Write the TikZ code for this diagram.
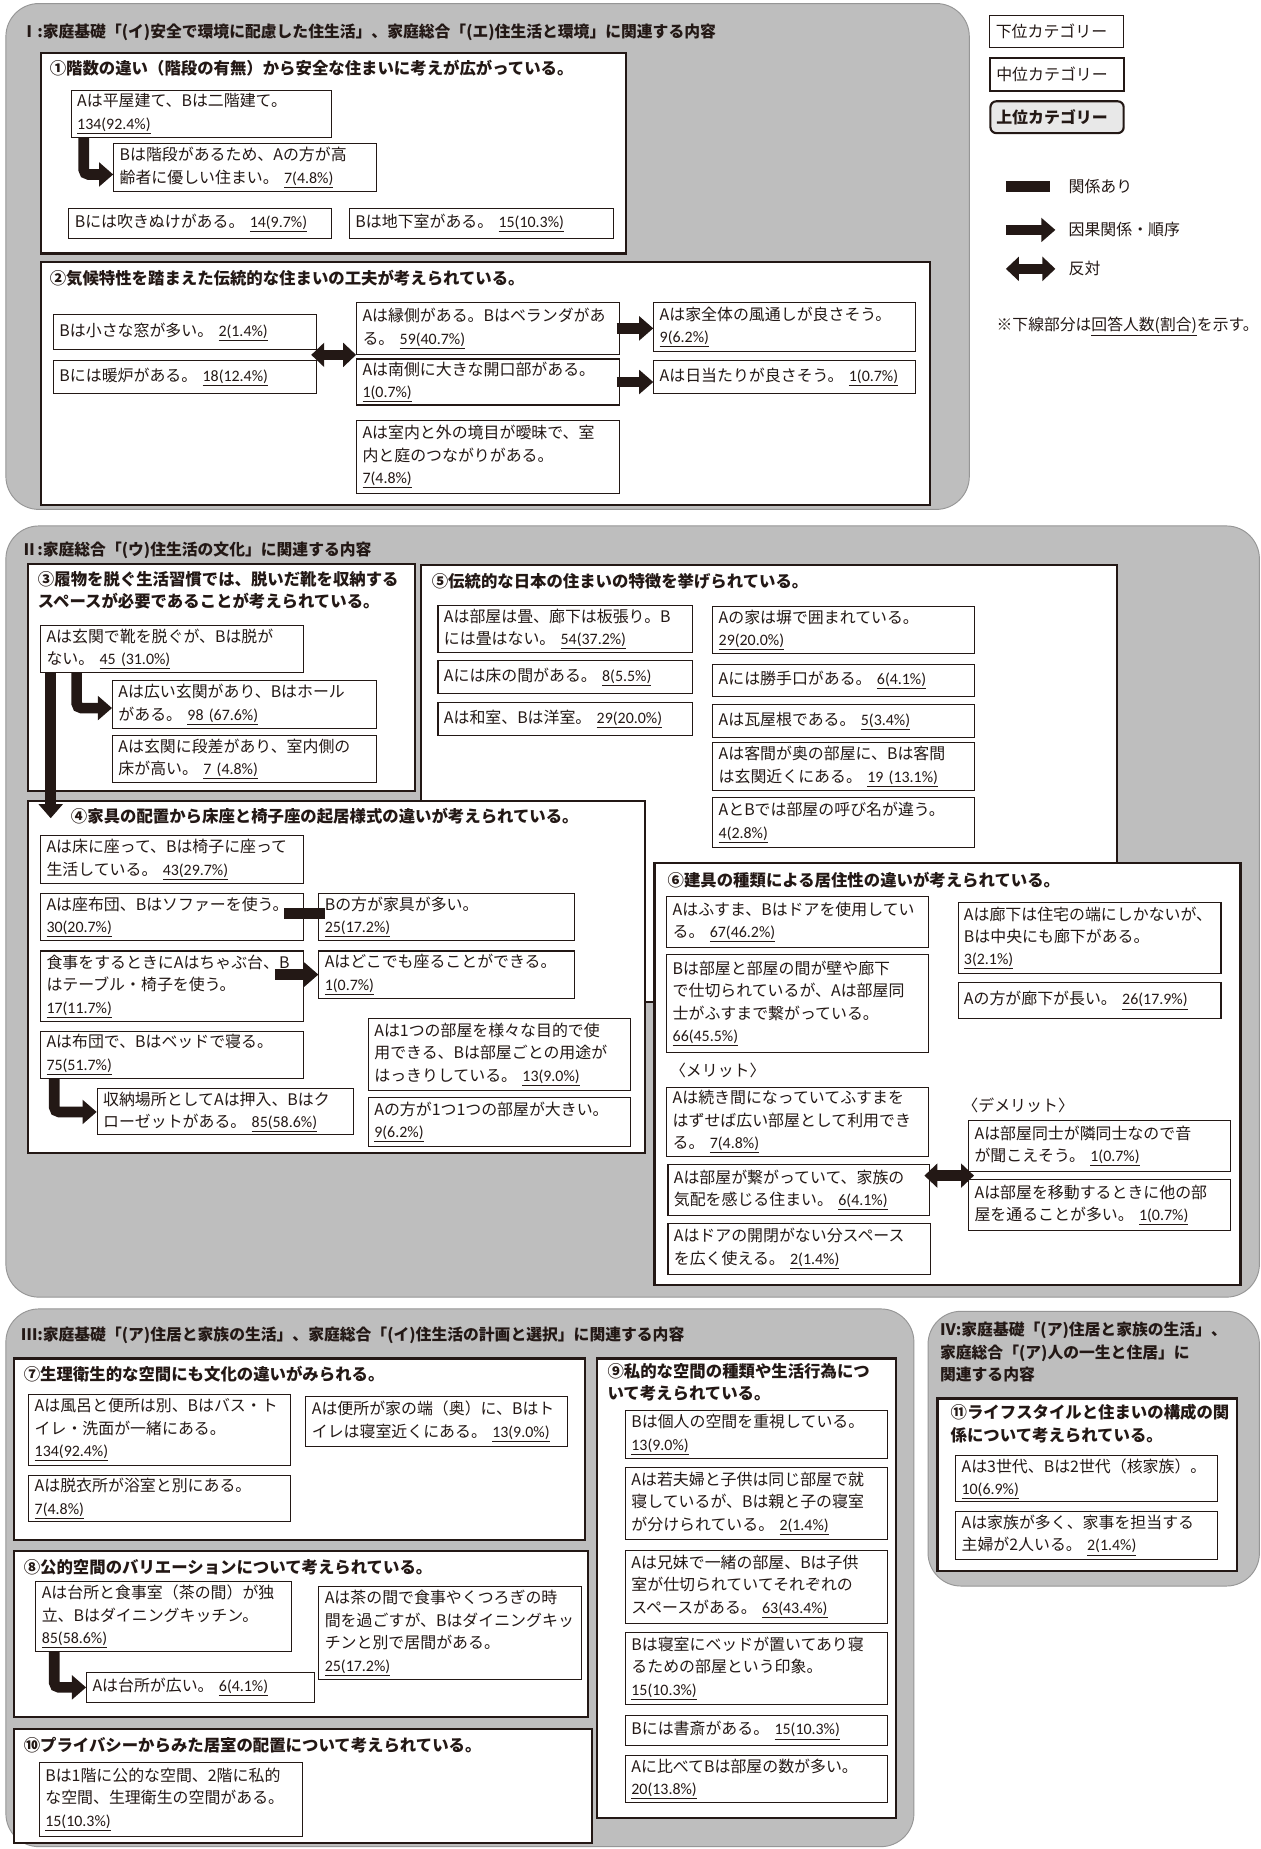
\documentclass[tikz,border=0pt]{standalone}
\usepackage{fontspec}
\setmainfont{Noto Sans CJK JP}
\newfontfamily\carl{Carlito}
\usetikzlibrary{arrows.meta,calc}
\definecolor{pan}{RGB}{190,190,190}
\definecolor{panb}{RGB}{150,150,150}
\definecolor{ink}{RGB}{35,24,21}
\newcommand\cnt[1]{\underline{\carl #1}}
\newcommand\bx[7][]{%
  \pgfmathsetmacro\bxw{#5-#3}%
  \pgfmathsetmacro\bxh{#6-#4}%
  \pgfmathsetmacro\bxt{#5-#3-10}%
  \node[lbox,#1,minimum width=\bxw pt,minimum height=\bxh pt,text width=\bxt pt] (#2) at (#3,#4) {#7};}
\begin{document}
\begin{tikzpicture}[x=1pt,y=-1pt,
  every node/.style={font=\fontsize{13.5}{19}\selectfont, inner sep=0pt, text=ink},
  lbox/.style={draw=ink, line width=0.9pt, fill=white, anchor=north west, align=left, inner xsep=5pt, inner ysep=2pt},
  mbox/.style={draw=ink, line width=1.8pt, fill=white},
  panel/.style={fill=pan, draw=panb, line width=0.8pt, rounded corners=28pt},
  stl/.style={anchor=west, font=\bfseries\fontsize{13.4}{19}\selectfont},
  stlb/.style={anchor=north west, align=left, font=\bfseries\fontsize{13.4}{19}\selectfont},
  ttl/.style={anchor=west, font=\bfseries\fontsize{13.9}{19}\selectfont},
  ttlb/.style={anchor=north west, align=left, font=\bfseries\fontsize{13.9}{19}\selectfont},
  carr/.style={draw=ink, line width=9pt, -{Triangle[length=12pt,width=20pt]}},
  bcarr/.style={carr, rounded corners=4pt},
  darr/.style={draw=ink, line width=9pt, {Triangle[length=11pt,width=20pt]}-{Triangle[length=11pt,width=20pt]}},
  rel/.style={draw=ink, line width=9pt}]
\useasboundingbox (0,0) rectangle (1069,1568);
\fill[white] (0,0) rectangle (1069,1568);

% ---------------- Section I ----------------
\draw[panel] (5,3) rectangle (822,432);
\node[stl] (t1) at (18,27) {Ⅰ:家庭基礎「(イ)安全で環境に配慮した住生活」、家庭総合「(エ)住生活と環境」に関連する内容};
\draw[mbox] (35,45) rectangle (531,215);
\node[ttl] (h1) at (42,58) {①階数の違い（階段の有無）から安全な住まいに考えが広がっている。};
\bx{b1a}{60}{76}{281}{116}{Aは平屋建て、Bは二階建て。\\\cnt{134(92.4\%)}}
\bx{b1b}{96}{121}{319}{162}{Bは階段があるため、Aの方が高\\齢者に優しい住まい。\ \cnt{7(4.8\%)}}
\bx{b1c}{58}{176}{281}{202}{Bには吹きぬけがある。\ \cnt{14(9.7\%)}}
\bx{b1d}{296}{176}{520}{202}{Bは地下室がある。\ \cnt{15(10.3\%)}}
\draw[bcarr] ([xshift=11pt]b1a.south west) |- ([yshift=-6pt]b1b.west);

\draw[mbox] (35,222) rectangle (789,428);
\node[ttl] (h2) at (42,236) {②気候特性を踏まえた伝統的な住まいの工夫が考えられている。};
\bx{b2a}{45}{266}{268}{296}{Bは小さな窓が多い。\ \cnt{2(1.4\%)}}
\bx{b2b}{45}{305}{268}{333}{Bには暖炉がある。\ \cnt{18(12.4\%)}}
\bx{b2c}{302}{256}{525}{300}{Aは縁側がある。Bはベランダがあ\\る。\ \cnt{59(40.7\%)}}
\bx{b2d}{302}{304}{525}{343}{Aは南側に大きな開口部がある。\\\cnt{1(0.7\%)}}
\bx{b2e}{302}{356}{525}{418}{Aは室内と外の境目が曖昧で、室\\内と庭のつながりがある。\\\cnt{7(4.8\%)}}
\bx{b2f}{554}{256}{776}{298}{Aは家全体の風通しが良さそう。\\\cnt{9(6.2\%)}}
\bx{b2g}{554}{305}{776}{333}{Aは日当たりが良さそう。\ \cnt{1(0.7\%)}}
\coordinate (m2l) at ($(b2a.south east)!.5!(b2b.north east)$);
\coordinate (m2s) at ([xshift=-5pt]m2l);
\draw[darr] (m2s) -- (m2l -| b2c.west);
\coordinate (s2c) at ([xshift=-3pt]b2c.east);
\draw[carr] (s2c) -- (s2c -| b2f.west);
\coordinate (s2d) at ([xshift=-3pt]b2d.east);
\draw[carr] (s2d) -- (s2d -| b2g.west);

% ---------------- Legend ----------------
\bx{lg1}{839}{13}{952}{40}{下位カテゴリー}
\bx[line width=1.8pt]{lg2}{839}{48}{952}{76}{中位カテゴリー}
\bx[line width=1.8pt,rounded corners=5pt,fill=black!9,font=\bfseries\fontsize{13.5}{19}\selectfont]{lg3}{839}{85}{952}{112}{上位カテゴリー}
\node[anchor=west] (lk1) at (906,158) {関係あり};
\draw[rel] ([xshift=-53pt]lk1.west) -- ([xshift=-16pt]lk1.west);
\node[anchor=west] (lk2) at (906,195) {因果関係・順序};
\draw[carr] ([xshift=-53pt]lk2.west) -- ([xshift=-11pt]lk2.west);
\node[anchor=west] (lk3) at (906,228) {反対};
\draw[darr] ([xshift=-53pt]lk3.west) -- ([xshift=-11pt]lk3.west);
\node[anchor=west,font=\fontsize{13.4}{16}\selectfont] (note) at (845,277) {※下線部分は\underline{回答人数(割合)}を示す。};

% ---------------- Section II ----------------
\draw[panel] (5,446) rectangle (1068,1100);
\node[stl] (t2) at (18,467) {Ⅱ:家庭総合「(ウ)住生活の文化」に関連する内容};

\draw[mbox] (357,479) rectangle (947,850);
\node[ttl] (h5) at (366,493) {⑤伝統的な日本の住まいの特徴を挙げられている。};
\bx{b5a}{371}{513}{587}{553}{Aは部屋は畳、廊下は板張り。B\\には畳はない。\ \cnt{54(37.2\%)}}
\bx{b5b}{371}{560}{587}{588}{Aには床の間がある。\ \cnt{8(5.5\%)}}
\bx{b5c}{371}{595}{587}{623}{Aは和室、Bは洋室。\ \cnt{29(20.0\%)}}
\bx{b5d}{604}{514}{826}{554}{Aの家は塀で囲まれている。\\\cnt{29(20.0\%)}}
\bx{b5e}{604}{563}{826}{590}{Aには勝手口がある。\ \cnt{6(4.1\%)}}
\bx{b5f}{604}{597}{826}{625}{Aは瓦屋根である。\ \cnt{5(3.4\%)}}
\bx{b5g}{604}{629}{826}{670}{Aは客間が奥の部屋に、Bは客間\\は玄関近くにある。\ \cnt{19 (13.1\%)}}
\bx{b5h}{604}{676}{826}{718}{AとBでは部屋の呼び名が違う。\\\cnt{4(2.8\%)}}

\draw[mbox] (24,478) rectangle (352,671);
\node[ttlb] (h3) at (32,484) {③履物を脱ぐ生活習慣では、脱いだ靴を収納する\\スペースが必要であることが考えられている。};
\bx{b3a}{34}{530}{257}{570}{Aは玄関で靴を脱ぐが、Bは脱が\\ない。\ \cnt{45 (31.0\%)}}
\bx{b3b}{95}{577}{319}{617}{Aは広い玄関があり、Bはホール\\がある。\ \cnt{98 (67.6\%)}}
\bx{b3c}{95}{623}{319}{663}{Aは玄関に段差があり、室内側の\\床が高い。\ \cnt{7 (4.8\%)}}

\draw[mbox] (24,679) rectangle (547,978);
\node[ttl] (h4) at (60,692) {④家具の配置から床座と椅子座の起居様式の違いが考えられている。};
\bx{b4a}{34}{708}{257}{749}{Aは床に座って、Bは椅子に座って\\生活している。\ \cnt{43(29.7\%)}}
\bx{b4b}{34}{757}{257}{797}{Aは座布団、Bはソファーを使う。\\\cnt{30(20.7\%)}}
\bx{b4c}{270}{757}{487}{797}{Bの方が家具が多い。\\\cnt{25(17.2\%)}}
\bx{b4d}{34}{806}{257}{866}{食事をするときにAはちゃぶ台、B\\はテーブル・椅子を使う。\\\cnt{17(11.7\%)}}
\bx{b4e}{270}{806}{487}{846}{Aはどこでも座ることができる。\\\cnt{1(0.7\%)}}
\bx{b4f}{34}{874}{257}{914}{Aは布団で、Bはベッドで寝る。\\\cnt{75(51.7\%)}}
\bx{b4g}{82}{923}{299}{962}{収納場所としてAは押入、Bはク\\ローゼットがある。\ \cnt{85(58.6\%)}}
\bx{b4h}{312}{863}{534}{924}{Aは1つの部屋を様々な目的で使\\用できる、Bは部屋ごとの用途が\\はっきりしている。\ \cnt{13(9.0\%)}}
\bx{b4i}{312}{930}{534}{972}{Aの方が1つ1つの部屋が大きい。\\\cnt{9(6.2\%)}}
\coordinate (s4b) at ([xshift=-17pt,yshift=3pt]b4b.east);
\draw[rel] (s4b) -- ([xshift=6pt]s4b -| b4c.west);
\coordinate (s4d) at ([xshift=-37pt]b4e.west);
\draw[carr] (s4d) -- (b4e.west);
\draw[bcarr] ([xshift=12pt]b4f.south west) |- (b4g.west);

\draw[mbox] (555,732) rectangle (1052,1090);
\node[ttl] (h6) at (566,746) {⑥建具の種類による居住性の違いが考えられている。};
\bx{b6a}{565}{760}{787}{803}{Aはふすま、Bはドアを使用してい\\る。\ \cnt{67(46.2\%)}}
\bx{b6b}{565}{809}{787}{892}{Bは部屋と部屋の間が壁や廊下\\で仕切られているが、Aは部屋同\\士がふすまで繋がっている。\\\cnt{66(45.5\%)}}
\node[anchor=west] (mer) at (568,908) {〈メリット〉};
\bx{b6c}{565}{922}{787}{980}{Aは続き間になっていてふすまを\\はずせば広い部屋として利用でき\\る。\ \cnt{7(4.8\%)}}
\bx{b6d}{566}{987}{788}{1030}{Aは部屋が繋がっていて、家族の\\気配を感じる住まい。\ \cnt{6(4.1\%)}}
\bx{b6e}{566}{1037}{789}{1080}{Aはドアの開閉がない分スペース\\を広く使える。\ \cnt{2(1.4\%)}}
\bx{b6f}{812}{765}{1035}{825}{Aは廊下は住宅の端にしかないが、\\Bは中央にも廊下がある。\\\cnt{3(2.1\%)}}
\bx{b6g}{812}{833}{1035}{863}{Aの方が廊下が長い。\ \cnt{26(17.9\%)}}
\node[anchor=west] (dem) at (816,937) {〈デメリット〉};
\bx{b6h}{821}{950}{1043}{993}{Aは部屋同士が隣同士なので音\\が聞こえそう。\ \cnt{1(0.7\%)}}
\bx{b6i}{821}{1000}{1043}{1043}{Aは部屋を移動するときに他の部\\屋を通ることが多い。\ \cnt{1(0.7\%)}}
\coordinate (m6r) at ($(b6h.south west)!.5!(b6i.north west)$);
\coordinate (x6) at ([xshift=-5pt]b6d.east);
\draw[darr] (x6 |- m6r) -- ([xshift=5pt]m6r);

\draw[carr] ([xshift=9pt]b3a.south west) -- ++(0,-123pt) coordinate (a3end);
\draw[bcarr] ([xshift=31pt]b3a.south west) |- ([yshift=-3pt]b3b.west);

% ---------------- Section III ----------------
\draw[panel] (5,1110) rectangle (775,1566);
\node[stl] (t3) at (18,1132) {Ⅲ:家庭基礎「(ア)住居と家族の生活」、家庭総合「(イ)住生活の計画と選択」に関連する内容};

\draw[mbox] (12,1152) rectangle (496,1306);
\node[ttl] (h7) at (20,1165) {⑦生理衛生的な空間にも文化の違いがみられる。};
\bx{b7a}{24}{1182}{246}{1242}{Aは風呂と便所は別、Bはバス・ト\\イレ・洗面が一緒にある。\\\cnt{134(92.4\%)}}
\bx{b7b}{24}{1251}{246}{1290}{Aは脱衣所が浴室と別にある。\\\cnt{7(4.8\%)}}
\bx{b7c}{259}{1184}{481}{1226}{Aは便所が家の端（奥）に、Bはト\\イレは寝室近くにある。\ \cnt{13(9.0\%)}}

\draw[mbox] (12,1315) rectangle (499,1456);
\node[ttl] (h8) at (20,1329) {⑧公的空間のバリエーションについて考えられている。};
\bx{b8a}{30}{1341}{247}{1400}{Aは台所と食事室（茶の間）が独\\立、Bはダイニングキッチン。\\\cnt{85(58.6\%)}}
\bx{b8b}{73}{1418}{266}{1443}{Aは台所が広い。\ \cnt{6(4.1\%)}}
\bx{b8c}{270}{1345}{493}{1424}{Aは茶の間で食事やくつろぎの時\\間を過ごすが、Bはダイニングキッ\\チンと別で居間がある。\\\cnt{25(17.2\%)}}
\draw[bcarr] ([xshift=16pt]b8a.south west) |- (b8b.west);

\draw[mbox] (12,1466) rectangle (502,1563);
\node[ttl] (h10) at (20,1480) {⑩プライバシーからみた居室の配置について考えられている。};
\bx{b10a}{33}{1494}{256}{1557}{Bは1階に公的な空間、2階に私的\\な空間、生理衛生の空間がある。\\\cnt{15(10.3\%)}}

\draw[mbox] (506,1152) rectangle (760,1542);
\node[ttlb] (h9) at (515,1156) {⑨私的な空間の種類や生活行為につ\\いて考えられている。};
\bx{b9a}{530}{1196}{752}{1236}{Bは個人の空間を重視している。\\\cnt{13(9.0\%)}}
\bx{b9b}{530}{1244}{752}{1305}{Aは若夫婦と子供は同じ部屋で就\\寝しているが、Bは親と子の寝室\\が分けられている。\ \cnt{2(1.4\%)}}
\bx{b9c}{530}{1314}{752}{1376}{Aは兄妹で一緒の部屋、Bは子供\\室が仕切られていてそれぞれの\\スペースがある。\ \cnt{63(43.4\%)}}
\bx{b9d}{530}{1384}{752}{1445}{Bは寝室にベッドが置いてあり寝\\るための部屋という印象。\\\cnt{15(10.3\%)}}
\bx{b9e}{530}{1454}{752}{1480}{Bには書斎がある。\ \cnt{15(10.3\%)}}
\bx{b9f}{530}{1488}{752}{1528}{Aに比べてBは部屋の数が多い。\\\cnt{20(13.8\%)}}

% ---------------- Section IV ----------------
\draw[panel] (787,1112) rectangle (1068,1345);
\node[stlb] (t4) at (797,1121) {Ⅳ:家庭基礎「(ア)住居と家族の生活」、\\家庭総合「(ア)人の一生と住居」に\\関連する内容};
\draw[mbox] (795,1186) rectangle (1049,1332);
\node[ttlb] (h11) at (806,1191) {⑪ライフスタイルと住まいの構成の関\\係について考えられている。};
\bx{b11a}{810}{1234}{1032}{1273}{Aは3世代、Bは2世代（核家族）。\\\cnt{10(6.9\%)}}
\bx{b11b}{810}{1281}{1032}{1322}{Aは家族が多く、家事を担当する\\主婦が2人いる。\ \cnt{2(1.4\%)}}
\end{tikzpicture}
\end{document}
